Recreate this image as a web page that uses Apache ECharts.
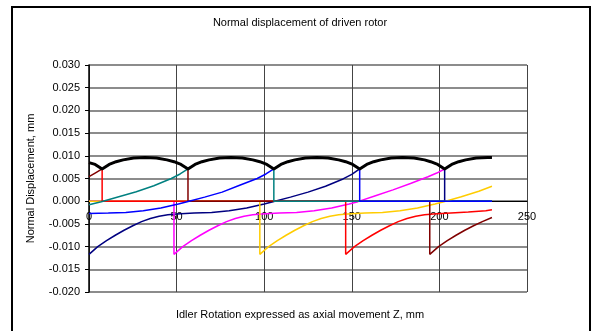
<!DOCTYPE html>
<html>
<head>
<meta charset="utf-8">
<script src="https://cdn.jsdelivr.net/npm/echarts@6/dist/echarts.min.js"></script>
<style>
  html, body { margin: 0; padding: 0; background: #fff; }
  #chart { width: 600px; height: 331px; }
</style>
</head>
<body>
<div id="chart"></div>
<script>
// envelope of the driven rotor (black), cusps where contact switches lobe
const envelope = [
  [0, 0.0085], [3.5, 0.0081], [7.5, 0.0071],
  [11.5, 0.0081], [15.5, 0.0087], [19.5, 0.0091], [25.5, 0.0095], [32, 0.0096], [38.5, 0.0095], [44.5, 0.0091], [48.5, 0.0087], [52.5, 0.0081], [56.5, 0.0071],
  [60.5, 0.0081], [64.5, 0.0087], [68.5, 0.0091], [74.5, 0.0095], [81, 0.0096], [87.5, 0.0095], [93.5, 0.0091], [97.5, 0.0087], [101.5, 0.0081], [105.5, 0.0071],
  [109.5, 0.0081], [113.5, 0.0087], [117.5, 0.0091], [123.5, 0.0095], [130, 0.0096], [136.5, 0.0095], [142.5, 0.0091], [146.5, 0.0087], [150.5, 0.0081], [154.5, 0.0071],
  [158.5, 0.0081], [162.5, 0.0087], [166.5, 0.0091], [172.5, 0.0095], [179, 0.0096], [185.5, 0.0095], [191.5, 0.0091], [195, 0.0087], [199, 0.0081], [203, 0.0071],
  [207, 0.0081], [211, 0.0087], [215, 0.0091], [221, 0.0095], [227.5, 0.0096], [230, 0.0096]
];

// lobe curves (x = axial movement Z, y = displacement)
const navyRise = [
  [0, -0.0117], [5, -0.0100], [10, -0.0087], [15, -0.0075], [20, -0.0064], [25, -0.0054],
  [30, -0.0045], [35, -0.0038], [40, -0.0033], [45, -0.0030], [50, -0.0028], [60, -0.0026],
  [70, -0.0025], [80, -0.0021], [90, -0.0015], [100, -0.0006], [105, -0.0001], [115, 0.0009],
  [125, 0.0020], [135, 0.0033], [145, 0.0049], [150, 0.0059]
];
const navyAfter = [[203, 0], [230, 0]];

const magentaRise = [
  [0, 0], [48.5, 0], [48.5, -0.0117], [53.5, -0.0100], [58.5, -0.0087], [63.5, -0.0075],
  [68.5, -0.0064], [73.5, -0.0054], [78.5, -0.0045], [83.5, -0.0038], [88.5, -0.0033],
  [93.5, -0.0030], [98.5, -0.0028], [108.5, -0.0026], [118.5, -0.0025], [128.5, -0.0021],
  [138.5, -0.0015], [148.5, -0.0006], [153.5, -0.0001], [163.5, 0.0012], [173.5, 0.0025],
  [183.5, 0.0039], [193.5, 0.0054], [198.5, 0.0062]
];

const goldPts = [
  [0, 0], [97.5, 0], [97.5, -0.0117], [102.5, -0.0100], [107.5, -0.0087], [112.5, -0.0075],
  [117.5, -0.0064], [122.5, -0.0054], [127.5, -0.0045], [132.5, -0.0038], [137.5, -0.0033],
  [142.5, -0.0030], [147.5, -0.0028], [157.5, -0.0026], [167.5, -0.0025], [177.5, -0.0021],
  [187.5, -0.0015], [197.5, -0.0006], [202.5, -0.0001], [212.5, 0.0010], [222.5, 0.0022],
  [230, 0.0033]
];

const redAfter = [
  [7.5, 0], [146.5, 0], [146.5, -0.0117], [151.5, -0.0100], [156.5, -0.0087], [161.5, -0.0075],
  [166.5, -0.0064], [171.5, -0.0054], [176.5, -0.0045], [181.5, -0.0038], [186.5, -0.0033],
  [191.5, -0.0030], [196.5, -0.0028], [206.5, -0.0026], [216.5, -0.0024], [226.5, -0.0021],
  [230, -0.0019]
];

const maroonRise = [[0, 0.0054], [3.5, 0.0062]];
const maroonAfter = [
  [56.5, 0], [194.5, 0], [194.5, -0.0117], [199.5, -0.0100], [204.5, -0.0087], [209.5, -0.0075],
  [214.5, -0.0064], [219.5, -0.0054], [224.5, -0.0045], [230, -0.0036]
];

const tealRise = [
  [0, -0.0008], [7, -0.0001], [17, 0.0010], [27, 0.0021], [37, 0.0034], [47, 0.0050], [52, 0.0060]
];
const tealAfter = [[105.5, 0], [230, 0]];

const blueRise = [
  [0, -0.0027], [11, -0.0026], [21, -0.0025], [31, -0.0021], [41, -0.0015], [51, -0.0006],
  [56, -0.0001], [66, 0.0009], [76, 0.0020], [86, 0.0035], [96, 0.0050], [101, 0.0060]
];
const blueAfter = [[154.5, 0], [230, 0]];

// while a lobe is in contact it runs along the envelope
function onEnvelope(from, to) {
  return envelope.filter(p => p[0] >= from && p[0] <= to);
}

const lobes = [
  { color: '#000080', data: navyRise.concat(onEnvelope(154.5, 203), navyAfter) },
  { color: '#FF00FF', data: magentaRise.concat(onEnvelope(203, 230)) },
  { color: '#FFCC00', data: goldPts },
  { color: '#FF0000', data: onEnvelope(0, 7.5).concat(redAfter) },
  { color: '#800000', data: maroonRise.concat(onEnvelope(7.5, 56.5), maroonAfter) },
  { color: '#008080', data: tealRise.concat(onEnvelope(56.5, 105.5), tealAfter) },
  { color: '#0000FF', data: blueRise.concat(onEnvelope(105.5, 154.5), blueAfter) }
];

const font = 'Liberation Sans, Arial, sans-serif';
let chart = echarts.init(document.getElementById('chart'));

let series = lobes.map(l => ({
  type: 'line',
  data: l.data,
  showSymbol: false,
  lineStyle: { color: l.color, width: 1.5 },
  itemStyle: { color: l.color },
  animation: false
}));
series.push({
  type: 'line',
  data: envelope,
  showSymbol: false,
  lineStyle: { color: '#000', width: 3 },
  itemStyle: { color: '#000' },
  animation: false
});

chart.setOption({
  backgroundColor: '#fff',
  animation: false,
  title: [{
    text: 'Normal displacement of driven rotor',
    left: 'center', top: 12,
    textStyle: { fontFamily: font, fontSize: 11, fontWeight: 'normal', color: '#000' }
  }, {
    text: 'Idler Rotation expressed as axial movement Z, mm',
    left: 'center', top: 304,
    textStyle: { fontFamily: font, fontSize: 11, fontWeight: 'normal', color: '#000' }
  }],
  graphic: [{
    type: 'rect',
    shape: { x: 12, y: 7, width: 578, height: 330 },
    style: { fill: null, stroke: '#000', lineWidth: 2 },
    silent: true
  }],
  grid: { left: 89, top: 65, width: 438, height: 227, outerBoundsMode: 'none' },
  xAxis: {
    type: 'value',
    min: 0, max: 250, interval: 50,
    // axis sits on the zero line of the y axis
    offset: -90.8,
    axisLine: { onZero: false, lineStyle: { color: '#000', width: 1 } },
    axisTick: { show: false },
    axisLabel: { fontFamily: font, fontSize: 11, color: '#000', margin: 10 },
    splitLine: { show: true, lineStyle: { color: '#444', width: 1 } }
  },
  yAxis: {
    type: 'value',
    min: -0.02, max: 0.03, interval: 0.005,
    name: 'Normal Displacement, mm',
    nameLocation: 'middle',
    nameGap: 53,
    nameTextStyle: { fontFamily: font, fontSize: 11, color: '#000' },
    axisLine: { show: true, lineStyle: { color: '#000', width: 1.5 } },
    axisTick: { show: true, inside: false, length: 4, lineStyle: { color: '#000' } },
    axisLabel: {
      fontFamily: font, fontSize: 11, color: '#000', margin: 9,
      formatter: v => (Math.abs(v) < 1e-9 ? 0 : v).toFixed(3)
    },
    splitLine: { show: true, lineStyle: { color: '#666', width: 1.5 } }
  },
  series: series
});
</script>
</body>
</html>
